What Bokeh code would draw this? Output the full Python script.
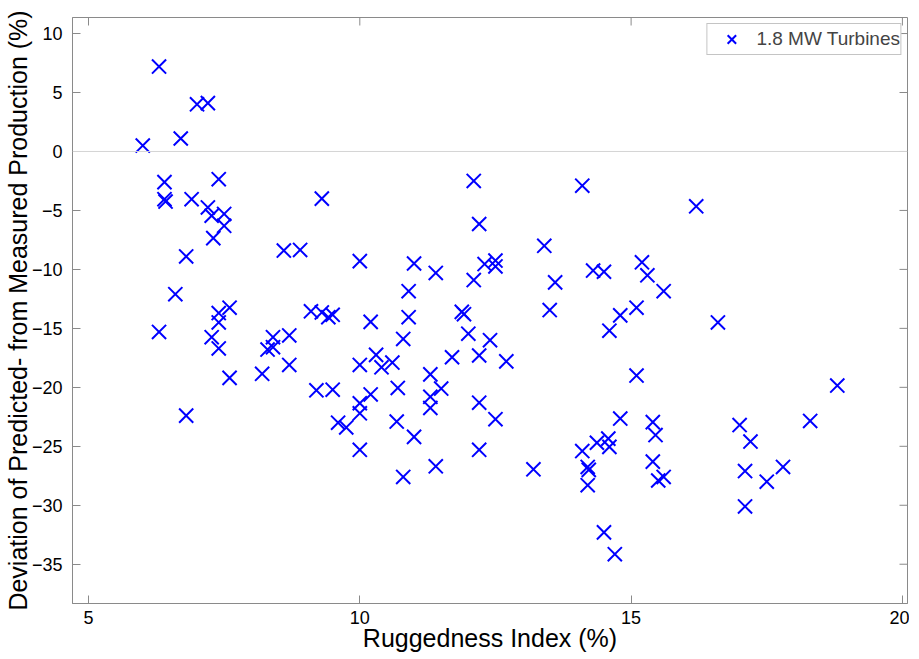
from bokeh.plotting import figure
from bokeh.models import Range1d, FixedTicker, Span
from bokeh.embed import file_html
from bokeh.resources import INLINE

# Ruggedness index (%) and deviation of predicted from measured production (%)
ruggedness = [
    6.3, 7.0, 7.2, 6.0, 6.7, 6.4, 7.4, 6.4, 6.42, 6.9,
    7.2, 7.27, 7.5, 7.5, 7.3, 6.8, 6.6, 7.4, 7.6, 7.4,
    6.3, 7.27, 7.4, 7.6, 6.8,
    8.6, 8.9, 10.0, 9.3, 8.4, 8.7, 8.3, 8.4, 8.2, 8.7,
    9.1, 9.3, 9.42, 9.5, 9.2, 9.5, 9.6, 9.75, 10.0, 10.0,
    10.0, 10.0, 10.2, 10.2, 10.3, 10.4, 10.6, 10.7, 10.68, 10.8,
    10.8, 10.9, 10.9, 11.0, 11.4, 11.0, 11.3, 11.5, 11.3, 11.3,
    11.4, 11.7, 11.88, 11.92, 12.0, 12.1, 12.2, 12.1, 12.3, 12.5,
    12.5, 12.2, 12.4, 12.2, 12.5, 12.2, 12.7, 13.2, 13.4, 13.5,
    13.6, 14.1, 14.3, 14.5, 14.6, 14.8, 15.1, 15.1, 15.2, 15.3,
    15.6, 16.2, 16.6, 14.1, 14.2, 14.22, 14.2, 14.37, 14.58, 14.6,
    14.8, 14.5, 14.7, 15.4, 15.45, 15.4, 15.5, 15.6, 17.0, 17.2,
    17.1, 17.1, 17.5, 17.8, 18.3, 18.8,
]
deviation = [
    7.2, 4.0, 4.1, 0.5, 1.1, -2.6, -2.35, -4.05, -4.25, -4.05,
    -4.75, -5.45, -5.3, -6.3, -7.35, -8.9, -12.1, -13.7, -13.25, -14.5,
    -15.3, -15.75, -16.7, -19.2, -22.4,
    -8.4, -8.35, -9.3, -4.0, -15.75, -15.6, -16.8, -16.6, -18.85, -18.1,
    -13.55, -13.65, -14.05, -13.85, -20.25, -20.2, -23.0, -23.4, -18.1, -21.35,
    -22.2, -25.3, -14.45, -20.6, -17.25, -18.3, -17.9, -20.05, -22.9, -27.6,
    -15.9, -14.05, -11.85, -9.5, -10.3, -24.2, -18.9, -20.1, -20.8, -21.75,
    -26.7, -17.45, -13.6, -13.8, -15.45, -2.5, -6.15, -10.9, -9.55, -9.25,
    -9.75, -17.3, -16.0, -21.3, -22.7, -25.3, -17.8, -26.95, -8.0, -13.45,
    -11.1, -2.9, -10.1, -10.2, -15.2, -13.9, -13.25, -19.0, -9.4, -10.5,
    -11.85, -4.65, -14.5, -25.4, -26.75, -27.0, -28.3, -24.7, -24.35, -25.05,
    -22.65, -32.3, -34.15, -22.95, -24.05, -26.3, -27.9, -27.6, -23.2, -24.6,
    -27.1, -30.1, -28.0, -26.75, -22.85, -19.85,
]

x_ticks = [5, 10, 15, 20]
y_ticks = [-35, -30, -25, -20, -15, -10, -5, 0, 5, 10]
x_lo, x_hi = 4.705, 20.094
y_lo, y_hi = -38.33, 11.36

FONT = "Liberation Sans"
AX_COLOR = "#8a8a8a"
FW, FH = 835, 586
TICK = 8

p = figure(frame_width=FW, frame_height=FH,
           x_range=Range1d(x_lo, x_hi), y_range=Range1d(y_lo, y_hi),
           output_backend="svg", toolbar_location=None,
           min_border_left=66, min_border_right=2, min_border_top=17,
           min_border_bottom=10)

p.grid.visible = False
p.outline_line_color = AX_COLOR
p.background_fill_color = "white"

p.xaxis.ticker = FixedTicker(ticks=x_ticks)
p.yaxis.ticker = FixedTicker(ticks=y_ticks)
for ax in (p.xaxis[0], p.yaxis[0]):
    ax.major_tick_in = TICK
    ax.major_tick_out = 0
    ax.minor_tick_in = 0
    ax.minor_tick_out = 0
    ax.axis_line_color = AX_COLOR
    ax.major_tick_line_color = AX_COLOR
    ax.major_label_text_font = FONT
    ax.major_label_text_font_size = "18px"
    ax.major_label_text_color = "black"
    ax.axis_label_text_font = FONT
    ax.axis_label_text_font_size = "25px"
    ax.axis_label_text_font_style = "normal"
    ax.axis_label_text_color = "black"

p.xaxis.axis_label = "Ruggedness Index (%)"
p.yaxis.axis_label = "Deviation of Predicted- from Measured Production (%)"
p.xaxis.major_label_standoff = 7
p.xaxis.axis_label_standoff = -3
p.yaxis.major_label_standoff = 10
p.yaxis.axis_label_standoff = -3

# mirrored inward ticks on the top and right edges of the box
dy = TICK * (y_hi - y_lo) / FH
dx = TICK * (x_hi - x_lo) / FW
p.segment(x0=x_ticks, x1=x_ticks, y0=[y_hi] * len(x_ticks), y1=[y_hi - dy] * len(x_ticks),
          line_color=AX_COLOR, line_width=1)
p.segment(x0=[x_hi] * len(y_ticks), x1=[x_hi - dx] * len(y_ticks), y0=y_ticks, y1=y_ticks,
          line_color=AX_COLOR, line_width=1)

p.add_layout(Span(location=0, dimension="width", line_color="#d4d4d4", line_width=1))

p.scatter(ruggedness, deviation, marker="x", size=20, line_color="#0000ff",
          line_width=2, legend_label="1.8 MW Turbines")

lg = p.legend[0]
lg.location = "top_right"
lg.margin = 6
lg.padding = 0
lg.glyph_width = 48
lg.glyph_height = 30
lg.label_standoff = 1
lg.label_text_font = FONT
lg.label_text_font_size = "19px"
lg.border_line_color = AX_COLOR
lg.border_line_width = 1
lg.background_fill_alpha = 1

open("out.html", "w").write(file_html(p, INLINE))
